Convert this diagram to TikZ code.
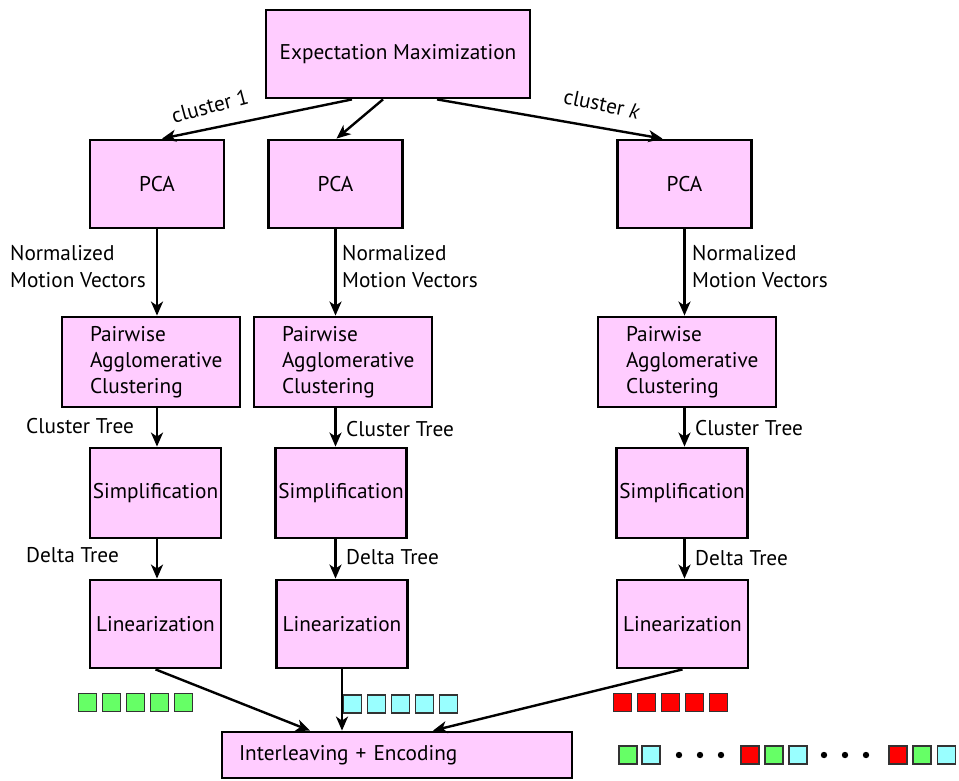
\documentclass[tikz,border=0pt]{standalone}
\usepackage{fontspec}
\setmainfont{PT Sans}
\usetikzlibrary{arrows.meta}
\definecolor{boxpink}{RGB}{255,204,255}
\definecolor{cgreen}{RGB}{102,255,102}
\definecolor{ccyan}{RGB}{153,255,255}
\definecolor{cred}{RGB}{255,0,0}

\begin{document}
\begin{tikzpicture}[x=1pt, y=-1pt, >={Stealth[length=14pt,width=12pt,inset=4pt]},
  block/.style={draw, line width=2.8pt, fill=boxpink, inner sep=0pt,
    font=\fontsize{21.3}{26}\selectfont},
  note/.style={inner sep=0pt, align=left, font=\fontsize{21.3}{27}\selectfont},
  cell/.style={draw=black!80, line width=1.6pt, minimum size=18pt, inner sep=0pt},
  conn/.style={->, line width=2.4pt}]
\useasboundingbox (0,0) rectangle (959,781);

% top
\node [block, minimum width=264pt, minimum height=88pt] (em) at (398,54) {Expectation Maximization};

% three columns
\foreach \c/\xp/\xw/\xs/\xl in {1/157/151/155.5/155.5, 2/335.5/343/341/342, 3/684.5/687/682/682.5}
{
  \node [block, minimum width=134pt, minimum height=88pt] (pca-\c) at (\xp,184) {PCA};
  \node [block, minimum height=90pt, text width=122pt, inner xsep=28pt, align=left]
    (pw-\c) at (\xw,362) {Pairwise\\Agglomerative\\Clustering};
  \node [block, minimum width=131pt, minimum height=90pt] (simp-\c) at (\xs,493) {Simplification};
  \node [block, minimum width=131pt, minimum height=88pt] (lin-\c) at (\xl,624) {Linearization};
  \draw [conn] (pca-\c) -- (pca-\c |- pw-\c.north);
  \draw [conn] (pca-\c |- pw-\c.south) -- (pca-\c |- simp-\c.north);
  \draw [conn] (pca-\c |- simp-\c.south) -- (pca-\c |- lin-\c.north);
}

\node [block, minimum height=46pt, text width=316pt, inner xsep=17pt, align=left]
  (ie) at (397,755) {Interleaving + Encoding};

% edges from EM
\draw [conn] ([xshift=-46pt]em.south) -- ([xshift=5pt]pca-1.north);
\draw [conn] ([xshift=-15pt]em.south) -- ([xshift=1pt]pca-2.north);
\draw [conn] ([xshift=39pt]em.south) -- ([xshift=-22pt]pca-3.north);
\node [note, rotate=15] (lbl-c1) at (210,106) {cluster 1};
\node [note, rotate=-12] (lbl-ck) at (602,104) {cluster \textit{k}};

% edge labels
\foreach \xp [count=\c] in {10, 342, 692}
  \node [note, anchor=west] (nmv-\c) at (\xp,267) {Normalized\\Motion Vectors};
\foreach \xp/\yp [count=\c] in {26/426, 346/429, 695/428}
  \node [note, anchor=west] (ct-\c) at (\xp,\yp) {Cluster Tree};
\foreach \xp/\yp [count=\c] in {26/555, 346/557, 695/558}
  \node [note, anchor=west] (dt-\c) at (\xp,\yp) {Delta Tree};

% into the encoder
\draw [conn] (lin-1.south) -- ([xshift=-87pt]ie.north);
\draw [conn] (lin-2.south) -- (lin-2.south |- ie.north);
\draw [conn] (lin-3.south) -- ([xshift=36pt]ie.north);

% symbol streams
\foreach \i in {0,...,4}
{
  \node [cell, fill=cgreen] (g-\i) at (87.5+24*\i,702.5) {};
  \node [cell, fill=ccyan] (b-\i) at (352.5+24*\i,704) {};
  \node [cell, fill=cred] (r-\i) at (622.5+24*\i,702.5) {};
}
\foreach \xp/\clr [count=\k] in {628/cgreen, 651/ccyan, 750/cred, 774/cgreen, 798/ccyan, 898/cred, 922/cgreen, 946.5/ccyan}
  \node [cell, fill=\clr] (mix-\k) at (\xp,755) {};
\foreach \xp in {679,700,721,824,845,866}
  \fill (\xp,755) circle (3.2pt);
\end{tikzpicture}
\end{document}
